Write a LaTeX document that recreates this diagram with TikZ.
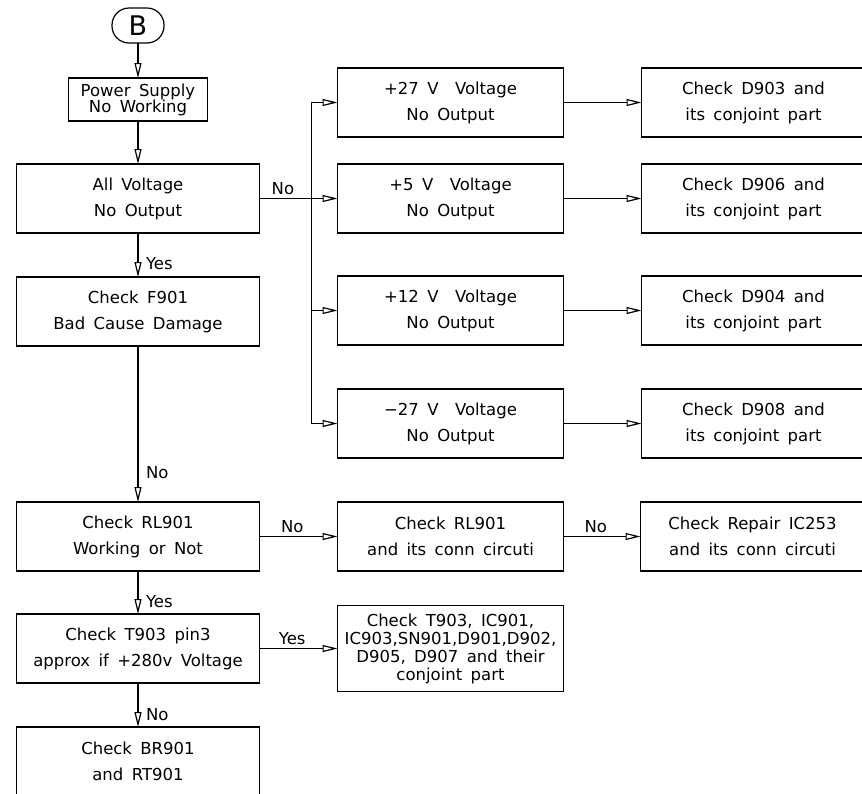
\documentclass[tikz,border=0pt]{standalone}
\usepackage{fontspec}
\setmainfont{DejaVu Sans}[WordSpace=1.6]
\usetikzlibrary{arrows.meta,positioning}

\begin{document}
\begin{tikzpicture}[
    x=1pt, y=-1pt,
    every node/.style={outer sep=0pt},
    box/.style={rectangle, draw, line width=1.2pt, minimum width=243pt, minimum height=69pt, inner sep=2pt, align=center, font=\fontsize{16.5}{26}\selectfont},
    sidebox/.style={box, minimum width=226pt},
    endbox/.style={box, minimum width=224pt},
    terminal/.style={draw, line width=1.2pt, rounded corners=17pt, minimum width=52pt, minimum height=35pt, inner sep=0pt, font=\fontsize{27}{27}\selectfont},
    arrow/.style={-{Triangle[open,length=15pt,width=7pt]}, line width=1.2pt},
    line/.style={line width=1.2pt},
    tag/.style={font=\fontsize{16.5}{18}\selectfont, inner sep=2pt}
]
    \useasboundingbox (0,0) rectangle (862,793);

    \node[terminal] (start) at (138,25.5) {B};
    \node[box, minimum width=139pt, minimum height=43pt, font=\fontsize{16.5}{16}\selectfont, below=35pt of start] (power) {Power Supply\\No Working};
    \node[box, below=43pt of power] (allv) {All Voltage\\No Output};
    \node[box, below=44pt of allv] (fuse) {Check F901\\Bad Cause Damage};
    \node[box, below=156pt of fuse] (relay) {Check RL901\\Working or Not};
    \node[box, below=43pt of relay] (pin3) {Check T903 pin3\\approx if +280v Voltage};
    \node[box, below=44pt of pin3] (bridge) {Check BR901\\and RT901};

    \node[sidebox, right=78pt of allv] (v5) {+5 V\quad Voltage\\No Output};
    \node[sidebox, above=27pt of v5] (v27) {+27 V\quad Voltage\\No Output};
    \node[sidebox, below=43pt of v5] (v12) {+12 V\quad Voltage\\No Output};
    \node[sidebox, below=44pt of v12] (vm27) {−27 V\quad Voltage\\No Output};
    \node[sidebox, right=78pt of relay] (relay2) {Check RL901\\and its conn circuti};
    \node[sidebox, right=78pt of pin3, minimum height=86pt, font=\fontsize{16.5}{18}\selectfont] (parts) {Check T903, IC901,\\IC903,SN901,D901,D902,\\D905, D907 and their\\conjoint part};

    \node[endbox, right=78pt of v27] (d903) {Check D903 and\\its conjoint part};
    \node[endbox, right=78pt of v5] (d906) {Check D906 and\\its conjoint part};
    \node[endbox, right=78pt of v12] (d904) {Check D904 and\\its conjoint part};
    \node[endbox, right=78pt of vm27] (d908) {Check D908 and\\its conjoint part};
    \node[endbox, right=77pt of relay2] (ic253) {Check Repair IC253\\and its conn circuti};

    % main column
    \draw[arrow] (start) -- (power);
    \draw[arrow] (power) -- (allv);
    \draw[arrow] (allv) -- node[tag, right=6pt, pos=0.7] {Yes} (fuse);
    \draw[arrow] (fuse) -- node[tag, right=6pt, pos=0.81] {No} (relay);
    \draw[arrow] (relay) -- node[tag, right=6pt, pos=0.7] {Yes} (pin3);
    \draw[arrow] (pin3) -- node[tag, right=6pt, pos=0.72] {No} (bridge);

    % voltage branches
    \coordinate[left=26pt of v5.west] (bus);
    \draw[line] (allv) -- node[tag, above=2pt, pos=0.45] {No} (bus);
    \draw[arrow] (bus) -- (v5);
    \draw[arrow] (bus) |- (v27);
    \draw[arrow] (bus) |- (v12);
    \draw[arrow] (bus) |- (vm27);
    \draw[arrow] (v27) -- (d903);
    \draw[arrow] (v5) -- (d906);
    \draw[arrow] (v12) -- (d904);
    \draw[arrow] (vm27) -- (d908);

    % relay and T903 branches
    \draw[arrow] (relay) -- node[tag, above=2pt, pos=0.42] {No} (relay2);
    \draw[arrow] (relay2) -- node[tag, above=2pt, pos=0.42] {No} (ic253);
    \draw[arrow] (pin3) -- node[tag, above=2pt, pos=0.42] {Yes} (parts);
\end{tikzpicture}
\end{document}
